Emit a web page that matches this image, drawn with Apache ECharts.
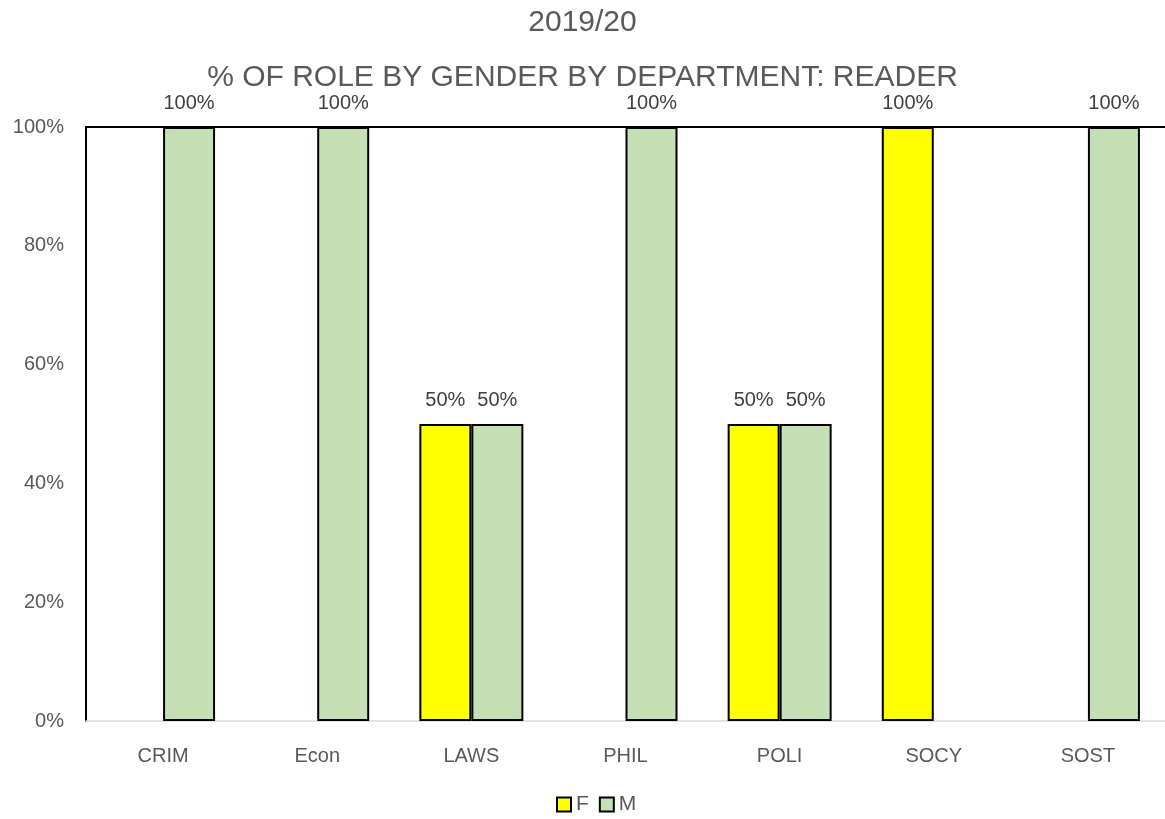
<!DOCTYPE html>
<html>
<head>
<meta charset="utf-8">
<script src="https://cdn.jsdelivr.net/npm/echarts@6/dist/echarts.min.js"></script>
<style>
  html, body { margin: 0; padding: 0; background: #fff; }
  #chart { width: 1165px; height: 819px; }
</style>
</head>
<body>
<div id="chart"></div>
<script>
// departments and share of reader role by gender (%)
var departments = ['CRIM', 'Econ', 'LAWS', 'PHIL', 'POLI', 'SOCY', 'SOST'];
var female = [0, 0, 50, 0, 50, 100, 0];
var male = [100, 100, 50, 100, 50, 0, 100];
var yTicks = [0, 20, 40, 60, 80, 100];

var font = 'Liberation Sans';
var chart = echarts.init(document.getElementById('chart'));

// zero bars are not drawn in the original, so skip them
function noZero(arr) {
    return arr.map(function (v) { return v === 0 ? '-' : v; });
}

var labelStyle = {
    show: true,
    position: 'top',
    distance: 14,
    formatter: '{c}%',
    color: '#404040',
    fontFamily: font,
    fontSize: 20
};

var option = {
    animation: false,
    backgroundColor: '#fff',
    title: [{
        text: '2019/20',
        left: 'center',
        top: 8,
        padding: 0,
        textStyle: { color: '#595959', fontFamily: font, fontSize: 30, fontWeight: 'normal' }
    }, {
        text: '% OF ROLE BY GENDER BY DEPARTMENT: READER',
        left: 'center',
        top: 63,
        padding: 0,
        textStyle: { color: '#595959', fontFamily: font, fontSize: 30, fontWeight: 'normal' }
    }],
    legend: {
        top: 794,
        left: 556,
        padding: 0,
        itemWidth: 14,
        itemHeight: 14,
        itemGap: 10,
        icon: 'rect',
        textStyle: { color: '#595959', fontFamily: font, fontSize: 21 },
        data: ['F', 'M']
    },
    grid: {
        left: 86,
        right: 0,
        top: 127,
        bottom: 98
    },
    xAxis: [{
        type: 'category',
        data: departments,
        axisLine: { lineStyle: { color: '#D9D9D9', width: 1.5 } },
        axisTick: { show: false },
        axisLabel: { color: '#595959', fontFamily: font, fontSize: 20, margin: 25 }
    }, {
        type: 'category',
        position: 'top',
        data: departments,
        axisLine: { show: true, lineStyle: { color: '#000', width: 2 } },
        axisTick: { show: false },
        axisLabel: { show: false }
    }],
    yAxis: {
        type: 'value',
        min: yTicks[0],
        max: yTicks[yTicks.length - 1],
        interval: 20,
        axisLine: { show: true, lineStyle: { color: '#000', width: 2 } },
        axisTick: { show: false },
        splitLine: { show: false },
        axisLabel: { color: '#595959', fontFamily: font, fontSize: 20, margin: 22, formatter: '{value}%' }
    },
    series: [{
        name: 'F',
        type: 'bar',
        data: noZero(female),
        barWidth: 52,
        barGap: '0%',
        itemStyle: { color: '#FFFF00', borderColor: '#000', borderWidth: 2 },
        label: labelStyle
    }, {
        name: 'M',
        type: 'bar',
        data: noZero(male),
        barWidth: 52,
        barGap: '0%',
        itemStyle: { color: '#C5E0B4', borderColor: '#000', borderWidth: 2 },
        label: labelStyle
    }]
};

chart.setOption(option);
</script>
</body>
</html>
